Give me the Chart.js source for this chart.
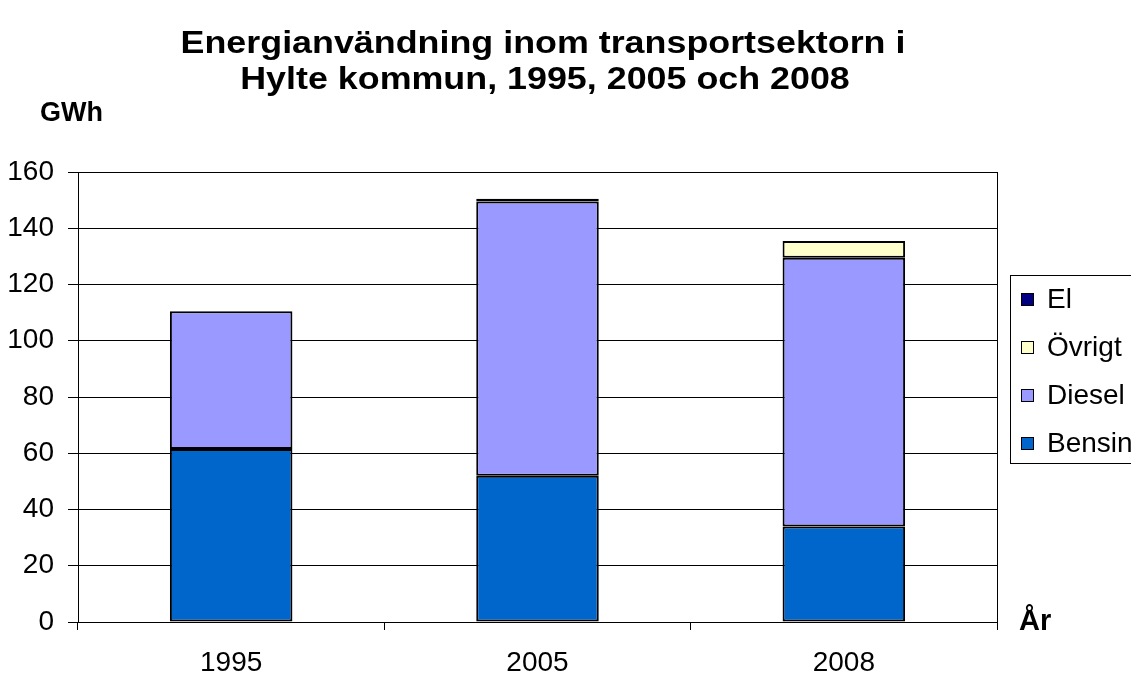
<!DOCTYPE html>
<html>
<head>
<meta charset="utf-8">
<title>Energianvändning Hylte</title>
<script src="https://cdn.jsdelivr.net/npm/chart.js@4.4.0/dist/chart.umd.min.js"></script>
<style>
    body { margin: 0; background: #fff; overflow: hidden; }
</style>
</head>
<body>
<canvas id="myChart" width="1131" height="675"></canvas>
<script>
// datos del grafico
const categorias = ['1995', '2005', '2008'];
const bensin = [61.5, 52, 34];
const diesel = [49, 97.5, 95.5];
const ovrigt = [null, null, 6];
const el = [null, 1, null];

const titulo = ['Energianvändning inom transportsektorn i', 'Hylte kommun, 1995, 2005 och 2008'];
const ejeY = 'GWh';
const ejeX = 'År';

const fuente = "'Liberation Sans', Arial, sans-serif";

// texto estirado en horizontal (como el original)
const textoAncho = (ctx, txt, x, y, sx) => {
    ctx.save();
    ctx.translate(x, y);
    ctx.scale(sx, 1);
    ctx.fillText(txt, 0, 0);
    ctx.restore();
};

// plugin para titulo, textos de ejes, borde y leyenda
const extras = {
    id: 'extras',
    beforeDatasetsDraw: (chart) => {
        const { ctx, chartArea } = chart;
        ctx.save();
        ctx.strokeStyle = '#000';
        ctx.lineWidth = 1;
        ctx.strokeRect(chartArea.left + 0.5, chartArea.top + 0.5, chartArea.right - chartArea.left, chartArea.bottom - chartArea.top);
        ctx.restore();
    },
    afterDraw: (chart) => {
        const { ctx, chartArea } = chart;
        ctx.save();
        ctx.fillStyle = '#000';
        ctx.textAlign = 'center';
        ctx.textBaseline = 'middle';
        ctx.font = 'bold 32px ' + fuente;
        textoAncho(ctx, titulo[0], 543, 44, 1.12);
        textoAncho(ctx, titulo[1], 545, 80, 1.12);

        ctx.textAlign = 'left';
        ctx.font = 'bold 27px ' + fuente;
        ctx.fillText(ejeY, 40, 114);
        ctx.font = 'bold 29px ' + fuente;
        ctx.fillText(ejeX, chartArea.right + 22, chartArea.bottom);

        // leyenda (orden inverso)
        const lx = chartArea.right + 13;
        const ly = 275;
        ctx.strokeStyle = '#000';
        ctx.lineWidth = 1;
        ctx.strokeRect(lx + 0.5, ly + 0.5, 200, 188);
        ctx.font = '28px ' + fuente;
        const sets = chart.data.datasets.slice().reverse();
        sets.forEach((ds, i) => {
            const cy = ly + 24 + i * 48;
            ctx.fillStyle = ds.backgroundColor;
            ctx.fillRect(lx + 11, cy - 6, 13, 13);
            ctx.strokeStyle = '#000';
            ctx.strokeRect(lx + 11.5, cy - 5.5, 12, 12);
            ctx.fillStyle = '#000';
            ctx.fillText(ds.label, lx + 37, cy + 1);
        });
        ctx.restore();
    }
};

const data = {
    labels: categorias,
    datasets: [
        { label: 'Bensin', data: bensin, backgroundColor: '#0066CC' },
        { label: 'Diesel', data: diesel, backgroundColor: '#9999FF' },
        { label: 'Övrigt', data: ovrigt, backgroundColor: '#FFFFCC' },
        { label: 'El', data: el, backgroundColor: '#000080' }
    ].map(d => Object.assign(d, {
        borderColor: '#000',
        borderWidth: 2,
        borderSkipped: false,
        barPercentage: 0.4,
        categoryPercentage: 1
    }))
};

const config = {
    type: 'bar',
    data: data,
    options: {
        responsive: false,
        animation: false,
        layout: { padding: { top: 172, right: 134, left: 0, bottom: 0 } },
        plugins: {
            legend: { display: false },
            title: { display: false },
            tooltip: { enabled: false }
        },
        scales: {
            x: {
                stacked: true,
                afterFit: (s) => { s.height = 53; },
                grid: { offset: true, drawOnChartArea: false, drawTicks: true, tickLength: 8, color: '#000' },
                border: { display: true, color: '#000', width: 1 },
                ticks: { color: '#000', padding: 16, font: { family: fuente, size: 28 } }
            },
            y: {
                stacked: true,
                min: 0,
                max: 160,
                afterFit: (s) => { s.width = 78; },
                grid: { color: '#000', lineWidth: 1, tickLength: 10 },
                border: { display: true, color: '#000', width: 1 },
                ticks: { stepSize: 20, color: '#000', padding: 14, font: { family: fuente, size: 28 } }
            }
        }
    },
    plugins: [extras]
};

const ctx = document.getElementById('myChart');
const myChart = new Chart(ctx, config);
</script>
</body>
</html>
